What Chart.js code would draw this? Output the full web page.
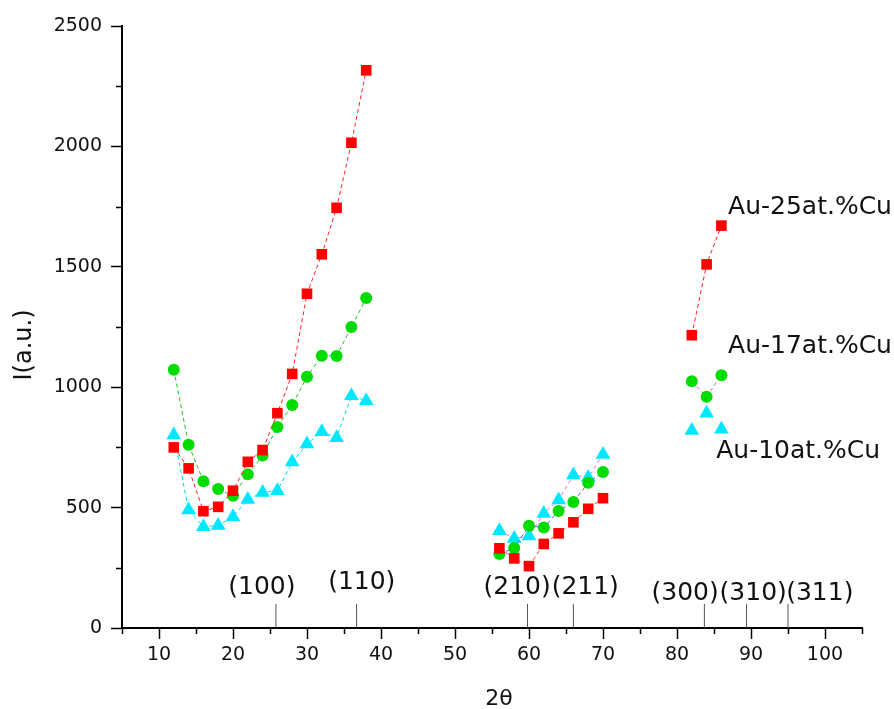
<!DOCTYPE html>
<html>
<head>
<meta charset="utf-8">
<script src="https://cdn.jsdelivr.net/npm/chart.js@4"></script>
<style>
  html, body { margin: 0; padding: 0; background: #fff; }
  #wrap { width: 894px; height: 709px; }
</style>
</head>
<body>
<div id="wrap"><canvas id="xrd"></canvas></div>
<script>
// 2theta positions of the measured points
const angles = [12, 14, 16, 18, 20, 22, 24, 26, 28, 30, 32, 34, 36, 38,
                56, 58, 60, 62, 64, 66, 68, 70,
                82, 84, 86];

const au25 = [750, 663, 485, 503, 570, 690, 739, 892, 1055, 1388, 1552, 1745, 2015, 2316,
              331, 289, 257, 349, 393, 439, 495, 539,
              1216, 1510, 1671];
const au17 = [1072, 761, 609, 577, 549, 638, 716, 835, 926, 1043, 1131, 1130, 1250, 1370,
              307, 332, 425, 417, 486, 523, 603, 648,
              1025, 960, 1050];
const au10 = [802, 490, 420, 426, 462, 534, 563, 570, 689, 764, 815, 790, 964, 944,
              404, 372, 382, 476, 532, 635, 625, 720,
              820, 892, 825];

const seriesNames = ["Au-25at.%Cu", "Au-17at.%Cu", "Au-10at.%Cu"];
const seriesLabelAt = [[86.9, 1748], [86.9, 1167], [85.3, 731]];

// reflection markers
const hklNames = ["(100)", "(110)", "(210)", "(211)", "(300)", "(310)", "(311)"];
const hklAngles = [25.8, 36.7, 59.8, 66.0, 83.7, 89.4, 95.0];
const hklLabelAngles = [23.9, 37.4, 58.4, 67.6, 81.1, 90.3, 99.3];
const hklLabelLevels = [170, 191, 170, 170, 145, 145, 145];
const hklHeight = 100;

const xTicks = [10, 20, 30, 40, 50, 60, 70, 80, 90, 100];
const yTicks = [0, 500, 1000, 1500, 2000, 2500];

const FONT = "'DejaVu Sans', sans-serif";

function points(values) {
    return angles.map((a, i) => ({ x: a, y: values[i] }));
}

// dashes change colour per group, and there is no line between groups
function segColor(colors) {
    return (ctx) => {
        const x0 = ctx.p0.parsed.x, x1 = ctx.p1.parsed.x;
        if (x1 - x0 > 4) return "rgba(0,0,0,0)";
        if (x0 < 50) return colors[0];
        if (x0 < 75) return colors[1];
        return colors[2];
    };
}

const markerLines = [];
hklAngles.forEach((a) => {
    markerLines.push({ x: a, y: 0 }, { x: a, y: hklHeight }, { x: a, y: null });
});

const extras = {
    id: "extras",
    afterDraw(chart) {
        const { ctx, scales: { x, y } } = chart;
        ctx.save();
        // minor ticks
        ctx.strokeStyle = "#000";
        ctx.lineWidth = 1.5;
        ctx.beginPath();
        for (let v = 5; v <= 105; v += 10) {
            const px = Math.round(x.getPixelForValue(v)) + 0.5;
            ctx.moveTo(px, y.bottom);
            ctx.lineTo(px, y.bottom + 6);
        }
        for (let v = 250; v < 2500; v += 500) {
            const py = Math.round(y.getPixelForValue(v)) + 0.5;
            ctx.moveTo(x.left, py);
            ctx.lineTo(x.left - 6, py);
        }
        ctx.stroke();

        ctx.fillStyle = "#111";
        ctx.textBaseline = "middle";
        ctx.textAlign = "center";
        ctx.font = "25px " + FONT;
        hklNames.forEach((n, i) => {
            ctx.fillText(n, x.getPixelForValue(hklLabelAngles[i]), y.getPixelForValue(hklLabelLevels[i]));
        });
        ctx.textAlign = "left";
        seriesNames.forEach((n, i) => {
            ctx.fillText(n, x.getPixelForValue(seriesLabelAt[i][0]), y.getPixelForValue(seriesLabelAt[i][1]));
        });

        // axis titles
        ctx.textAlign = "center";
        ctx.font = "22px " + FONT;
        ctx.fillText("2θ", 499, 699);
        ctx.translate(25, 345);
        ctx.rotate(-Math.PI / 2);
        ctx.font = "24px " + FONT;
        ctx.fillText("I(a.u.)", 0, 0);
        ctx.restore();
    },
};

new Chart(document.getElementById("xrd"), {
    type: "line",
    data: {
        datasets: [
            {
                label: "hkl",
                data: markerLines,
                borderColor: "#555",
                borderWidth: 1,
                pointRadius: 0,
                spanGaps: false,
            },
            {
                label: seriesNames[0],
                data: points(au25),
                borderColor: "#ff0000",
                borderWidth: 1,
                borderDash: [4, 3],
                segment: { borderColor: segColor(["#ff2020", "#ff4040", "#ff2020"]) },
                pointStyle: "rect",
                pointRadius: 7.5,
                pointBackgroundColor: "#ff0000",
                pointBorderColor: "#ff0000",
                pointBorderWidth: 0,
            },
            {
                label: seriesNames[1],
                data: points(au17),
                borderColor: "#00dc00",
                borderWidth: 1,
                borderDash: [4, 3],
                segment: { borderColor: segColor(["#20c020", "#5a5ae0", "#b070c8"]) },
                pointStyle: "circle",
                pointRadius: 6,
                pointBackgroundColor: "#00dc00",
                pointBorderColor: "#00dc00",
                pointBorderWidth: 0,
            },
            {
                label: seriesNames[2],
                data: points(au10),
                borderColor: "#00e8ff",
                borderWidth: 1,
                borderDash: [4, 3],
                segment: { borderColor: segColor(["#00d8f0", "#f070f0", "#f0f060"]) },
                pointStyle: "triangle",
                pointRadius: 8.5,
                pointBackgroundColor: "#00e8ff",
                pointBorderColor: "#00e8ff",
                pointBorderWidth: 0,
            },
        ],
    },
    options: {
        responsive: true,
        maintainAspectRatio: false,
        animation: false,
        events: [],
        layout: { padding: { top: 26, right: 32, left: 0, bottom: 0 } },
        plugins: {
            legend: { display: false },
            tooltip: { enabled: false },
        },
        scales: {
            x: {
                type: "linear",
                min: 5,
                max: 105,
                afterBuildTicks: (scale) => {
                    scale.ticks = xTicks.map((v) => ({ value: v }));
                },
                afterFit: (scale) => { scale.height = 81; },
                ticks: {
                    color: "#111",
                    font: { family: FONT, size: 19 },
                    padding: 5,
                    maxRotation: 0,
                    callback: (v) => String(v),
                },
                grid: {
                    drawOnChartArea: false,
                    drawTicks: true,
                    tickLength: 11,
                    tickWidth: 1.5,
                    tickColor: "#000",
                },
                border: { color: "#000", width: 2 },
            },
            y: {
                type: "linear",
                min: 0,
                max: 2500,
                afterBuildTicks: (scale) => {
                    scale.ticks = yTicks.map((v) => ({ value: v }));
                },
                afterFit: (scale) => { scale.width = 122; },
                ticks: {
                    color: "#111",
                    font: { family: FONT, size: 19 },
                    padding: 9,
                    callback: (v) => String(v),
                },
                grid: {
                    drawOnChartArea: false,
                    drawTicks: true,
                    tickLength: 11,
                    tickWidth: 1.5,
                    tickColor: "#000",
                },
                border: { color: "#000", width: 2 },
            },
        },
    },
    plugins: [extras],
});
</script>
</body>
</html>
